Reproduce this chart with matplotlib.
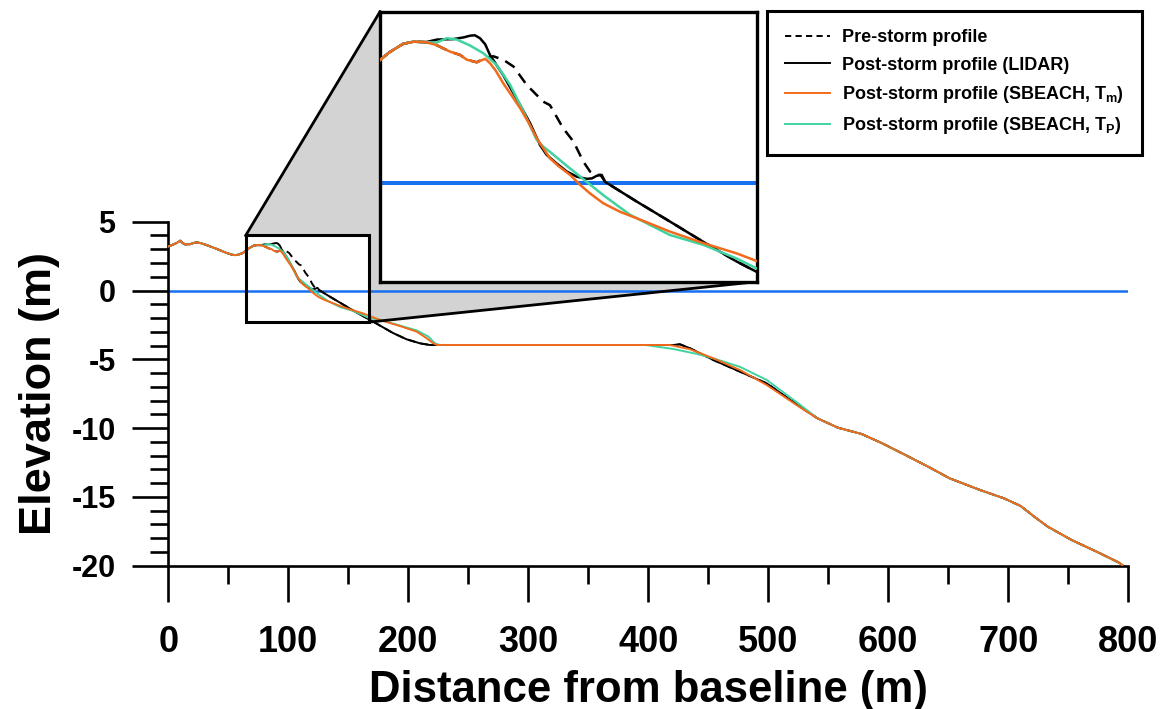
import numpy as np
import matplotlib
matplotlib.use("Agg")
import matplotlib.pyplot as plt
from matplotlib.patches import Polygon, Rectangle
from matplotlib.lines import Line2D
from matplotlib.ticker import MultipleLocator

plt.rcParams['font.family'] = ['Liberation Sans', 'DejaVu Sans']
plt.rcParams['font.weight'] = 'bold'
plt.rcParams['axes.unicode_minus'] = False
plt.rcParams['mathtext.fontset'] = 'custom'
plt.rcParams['mathtext.rm'] = 'Liberation Sans'
plt.rcParams['mathtext.it'] = 'Liberation Sans:italic'
plt.rcParams['mathtext.bf'] = 'Liberation Sans:bold'

# ---- cross-shore profiles: distance from baseline (m), elevation (m) ----
# landward part shared by all profiles
land_dist = [0, 3, 7, 10, 12, 14, 18, 21, 24, 28, 32, 38, 43, 48, 53, 56, 59, 62,
             64.5, 67, 70.8, 73.6, 77]
land_elev = [3.2, 3.3, 3.45, 3.62, 3.45, 3.35, 3.36, 3.45, 3.5, 3.42, 3.3, 3.1, 2.93,
             2.75, 2.6, 2.57, 2.62, 2.72, 2.87, 3.05, 3.25, 3.30, 3.29]

# offshore part shared by all profiles
tail_dist = [541, 558, 577.8, 594.8, 614.4, 634.2, 651.1, 676.5, 696.3, 710.3,
             721.7, 733, 752.7, 775.3, 792.3, 795]
tail_elev = [-9.29, -9.97, -10.43, -11.1, -11.96, -12.85, -13.65, -14.5, -15.1,
             -15.66, -16.44, -17.17, -18.13, -19.05, -19.78, -19.95]

# post-storm profile (LIDAR)
lidar_dist = [80, 84.4, 87.2, 89.0, 90.3, 91.7, 93.1, 94.4, 98.0, 102.6, 105.3, 108.0,
              109.8, 112.5, 115.3, 118.0, 120.7, 122.1, 123.4, 124.3, 124.8, 125.7,
              134.3, 143.4, 152.4, 161.5, 166.9, 176.4, 187.5, 198.7, 209.8, 218,
              420.8, 426.4, 434.8, 454.2, 476.4, 498.7, 526.4]
lidar_elev = [3.35, 3.36, 3.40, 3.44, 3.45, 3.38, 3.24, 2.99, 2.52, 1.82, 1.40, 0.89,
              0.66, 0.46, 0.27, 0.15, 0.10, 0.11, 0.17, 0.19, 0.15, 0.03,
              -0.43, -0.90, -1.37, -1.83, -2.07, -2.55, -3.1, -3.55, -3.84, -3.96,
              -3.96, -3.91, -4.2, -5.05, -5.9, -6.75, -8.44]

# pre-storm profile across the dune face
pre_dune_dist = [79.9, 83.5, 86.3, 88.1, 90.8, 93.5, 95.3, 98.0, 100.8, 104.4, 108.9,
                 110.7, 114.3, 117.1, 119.8, 121.6, 123.4, 124.8, 125.7]
pre_dune_elev = [3.22, 3.07, 2.99, 2.88, 2.82, 2.93, 2.96, 2.88, 2.72, 2.29, 1.90,
                 1.82, 1.28, 0.97, 0.50, 0.27, 0.19, 0.19, 0.03]

# post-storm profile (SBEACH, Tm)
tm_dist = [79.9, 83.5, 86.3, 88.1, 90.8, 93.1, 94.4, 96, 98, 100, 102.6, 105, 107.1,
           109, 110.7, 113, 116.2, 118.9, 121.6, 125.2, 129.8, 134.3, 143.3, 152.4,
           161.5, 167, 176.4, 193, 207, 215.3, 220.8, 224, 418, 434.8, 454.2, 476.4,
           498.7, 515.3, 526.4]
tm_elev = [3.22, 3.07, 2.99, 2.88, 2.82, 2.90, 2.80, 2.62, 2.33, 2.08, 1.75, 1.40,
           1.05, 0.80, 0.58, 0.40, 0.19, -0.04, -0.24, -0.47, -0.67, -0.82, -1.13,
           -1.40, -1.64, -1.82, -2.15, -2.58, -2.99, -3.47, -3.84, -3.96, -3.96,
           -4.27, -4.93, -5.78, -6.87, -7.84, -8.49]

# post-storm profile (SBEACH, Tp)
tp_dist = [79.9, 82.6, 85.4, 89.0, 92.6, 96.2, 99.9, 103.5, 107.1, 108.9, 110.7,
           116.2, 120.7, 125.2, 132.5, 143.3, 152.4, 161.5, 166.9, 176.4, 193, 207,
           216.8, 222.2, 226, 397.5, 420.8, 440, 454.2, 476.4, 498.7, 526.4]
tp_elev = [3.28, 3.38, 3.35, 3.21, 3.03, 2.76, 2.29, 1.67, 1.01, 0.85, 0.73, 0.34,
           0.03, -0.28, -0.74, -1.21, -1.44, -1.76, -1.99, -2.12, -2.55, -2.9, -3.35,
           -3.84, -3.96, -3.96, -4.25, -4.6, -4.93, -5.55, -6.5, -8.3]

sea_level = 0.0

# zoom window on the dune
zoom_x = (64.5, 167.0)
zoom_y = (-2.3, 4.0)

legend_labels = ["Pre-storm profile",
                 "Post-storm profile (LIDAR)",
                 r"Post-storm profile (SBEACH, T$_{\mathrm{m}}$)",
                 r"Post-storm profile (SBEACH, T$_{\mathrm{P}}$)"]

c_orange = "#f26a1b"
c_green = "#3fd3a0"
c_blue = "#1670f0"


def full(mid_d, mid_e):
    d = np.concatenate([land_dist, mid_d, tail_dist])
    e = np.concatenate([land_elev, mid_e, tail_elev])
    return d, e


lidar_x, lidar_y = full(lidar_dist, lidar_elev)
tm_x, tm_y = full(tm_dist, tm_elev)
tp_x, tp_y = full(tp_dist, tp_elev)
# seaward of the dune face the pre-storm survey follows the LIDAR profile
off = np.array(lidar_dist) > pre_dune_dist[-1]
pre_x, pre_y = full(np.concatenate([pre_dune_dist, np.array(lidar_dist)[off]]),
                    np.concatenate([pre_dune_elev, np.array(lidar_elev)[off]]))

W, H = 1166, 709
fig = plt.figure(figsize=(W / 100, H / 100), dpi=100)
ax = fig.add_axes([168.3 / W, 1 - 565.7 / H, 960 / W, 344 / H])


def draw_profiles(a, lw, sea_lw, dash):
    a.axhline(sea_level, color=c_blue, lw=sea_lw, zorder=2)
    a.plot(pre_x, pre_y, color="black", lw=lw, ls=(0, dash), zorder=3)
    a.plot(lidar_x, lidar_y, color="black", lw=lw, zorder=4)
    a.plot(tp_x, tp_y, color=c_green, lw=lw, zorder=5)
    a.plot(tm_x, tm_y, color=c_orange, lw=lw, zorder=6)


draw_profiles(ax, 1.4, 1.8, (4, 2.6))
ax.set_xlim(0, 800)
ax.set_ylim(-20, 5)
for s in ("top", "right"):
    ax.spines[s].set_visible(False)
for s in ("left", "bottom"):
    ax.spines[s].set_linewidth(1.9)
ax.xaxis.set_major_locator(MultipleLocator(100))
ax.xaxis.set_minor_locator(MultipleLocator(50))
ax.yaxis.set_major_locator(MultipleLocator(5))
ax.yaxis.set_minor_locator(MultipleLocator(1))
ax.tick_params(which="major", direction="out", length=26, width=1.9)
ax.tick_params(which="minor", direction="out", length=13, width=1.9)
ax.tick_params(axis="x", which="major", pad=17, labelsize=26)
ax.tick_params(axis="y", which="major", pad=12, labelsize=22)
for lab in ax.get_xticklabels() + ax.get_yticklabels():
    lab.set_fontweight("bold")
ax.set_xlabel("Distance from baseline (m)", fontsize=31.5, fontweight="bold", labelpad=7)
ax.set_ylabel("Elevation (m)", fontsize=32.5, fontweight="bold", labelpad=8)

# zoom box on the main axes
ax.add_patch(Rectangle((zoom_x[0], zoom_y[0]), zoom_x[1] - zoom_x[0],
                       zoom_y[1] - zoom_y[0], fill=False, ec="black", lw=2.2, zorder=7))

# inset axes
inset_px = (380, 11.7, 757, 281.7)
axin = fig.add_axes([inset_px[0] / W, 1 - inset_px[3] / H,
                     (inset_px[2] - inset_px[0]) / W, (inset_px[3] - inset_px[1]) / H])
draw_profiles(axin, 1.8, 2.9, (4.5, 3))
axin.set_xlim(*zoom_x)
axin.set_ylim(*zoom_y)
axin.set_xticks([])
axin.set_yticks([])
for s in axin.spines.values():
    s.set_linewidth(2.4)
axin.set_zorder(3)

# shaded connector between zoom box and inset
to_data = ax.transData.inverted()
fig_to_disp = lambda px, py: (px, H - py)
in_tl = to_data.transform(fig_to_disp(inset_px[0], inset_px[1]))
in_bl = to_data.transform(fig_to_disp(inset_px[0], inset_px[3]))
in_br = to_data.transform(fig_to_disp(inset_px[2], inset_px[3]))
box_tl = (zoom_x[0], zoom_y[1])
box_tr = (zoom_x[1], zoom_y[1])
box_br = (zoom_x[1], zoom_y[0])
ax.add_patch(Polygon([box_tl, in_tl, in_bl, in_br, box_br, box_tr], closed=True,
                     fc="#d3d3d3", ec="none", clip_on=False, zorder=1))
ax.plot([box_tl[0], in_tl[0]], [box_tl[1], in_tl[1]], color="black", lw=2.0,
        clip_on=False, zorder=7)
ax.plot([box_br[0], in_br[0]], [box_br[1], in_br[1]], color="black", lw=2.0,
        clip_on=False, zorder=7)

# legend
handles = [Line2D([], [], color="black", lw=1.4, ls=(0, (3.2, 2.2))),
           Line2D([], [], color="black", lw=1.4),
           Line2D([], [], color=c_orange, lw=1.4),
           Line2D([], [], color=c_green, lw=1.4)]
leg = fig.legend(handles, legend_labels, loc="upper left",
                 bbox_to_anchor=(767 / W, 1 - 11 / H), bbox_transform=fig.transFigure,
                 borderaxespad=0, fancybox=False, framealpha=1, edgecolor="black",
                 prop={"size": 13, "weight": "bold"}, handlelength=2.5,
                 handletextpad=0.65, labelspacing=0.58, borderpad=1.0)
leg.get_frame().set_linewidth(2.2)

fig.savefig("out.png", dpi=100)
